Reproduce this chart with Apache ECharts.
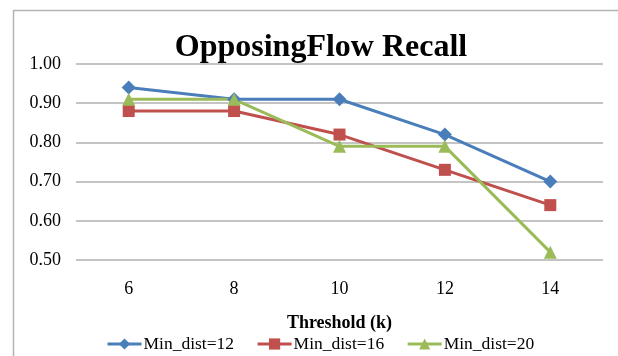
<!DOCTYPE html>
<html>
<head>
<meta charset="utf-8">
<script src="https://cdn.jsdelivr.net/npm/echarts@6/dist/echarts.min.js"></script>
<style>html,body{margin:0;padding:0;background:#fff;}#c{width:618px;height:356px;}</style>
</head>
<body>
<div id="c"></div>
<script>
const categories = ['6', '8', '10', '12', '14'];
const minDist12 = [0.94, 0.91, 0.91, 0.82, 0.70];
const minDist16 = [0.88, 0.88, 0.82, 0.73, 0.64];
const minDist20 = [0.91, 0.91, 0.79, 0.79, 0.52];
const seriesNames = ['Min_dist=12', 'Min_dist=16', 'Min_dist=20'];

const FONT = '"Liberation Serif", serif';
const chart = echarts.init(document.getElementById('c'));
chart.setOption({
  animation: false,
  backgroundColor: '#fff',
  graphic: [{
    type: 'rect', left: 11, top: 8, silent: true,
    shape: { width: 700, height: 400 },
    style: { fill: 'none', stroke: '#b4b4b4', lineWidth: 1.5 }
  }],
  title: {
    text: 'OpposingFlow Recall', left: 316, textAlign: 'center', top: 27,
    textStyle: { fontFamily: FONT, fontWeight: 'bold', fontSize: 32, color: '#000' }
  },
  grid: { left: 76, right: 15, top: 64, bottom: 96 },
  legend: {
    left: 101, top: 330, itemWidth: 34, itemHeight: 14, itemGap: 22,
    lineStyle: { width: 3 },
    textStyle: { fontFamily: FONT, fontSize: 17.5, color: '#000', padding: [0, 0, 0, -3] },
    data: seriesNames
  },
  xAxis: {
    type: 'category', data: categories, boundaryGap: true,
    name: 'Threshold (k)', nameLocation: 'middle', nameGap: 54,
    nameTextStyle: { fontFamily: FONT, fontWeight: 'bold', fontSize: 18, color: '#000' },
    axisLine: { show: false }, axisTick: { show: false },
    axisLabel: { fontFamily: FONT, fontSize: 18, color: '#000', margin: 20 }
  },
  yAxis: {
    type: 'value', min: 0.5, max: 1.0, interval: 0.1,
    axisLine: { show: false }, axisTick: { show: false },
    axisLabel: { fontFamily: FONT, fontSize: 18, color: '#000', margin: 15,
      formatter: v => v.toFixed(2) },
    splitLine: { lineStyle: { color: '#b0b0b0', width: 1.5 } }
  },
  series: [
    { name: seriesNames[0], type: 'line', data: minDist12, symbol: 'diamond', symbolSize: 14,
      itemStyle: { color: '#4a7ebb' }, lineStyle: { width: 3, color: '#4a7ebb' } },
    { name: seriesNames[1], type: 'line', data: minDist16, symbol: 'rect', symbolSize: 12,
      itemStyle: { color: '#c0504d' }, lineStyle: { width: 3, color: '#c0504d' } },
    { name: seriesNames[2], type: 'line', data: minDist20, symbol: 'triangle', symbolSize: 13,
      itemStyle: { color: '#9bbb59' }, lineStyle: { width: 3, color: '#9bbb59' } }
  ]
});
</script>
</body>
</html>
